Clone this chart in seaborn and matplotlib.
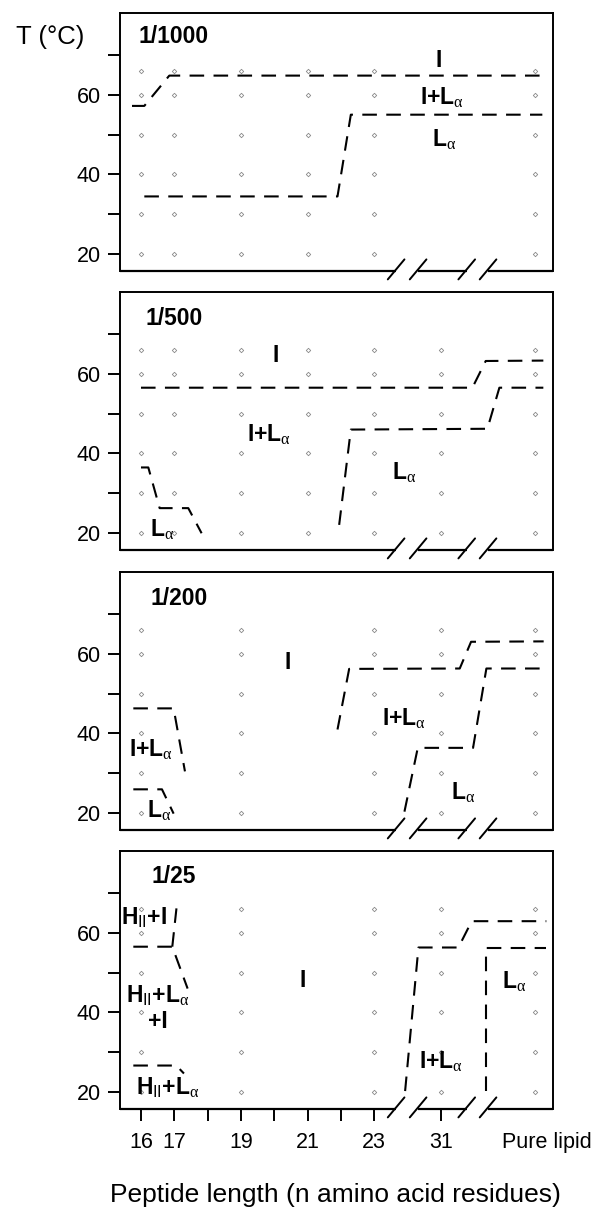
import numpy as np
import pandas as pd
import matplotlib
matplotlib.use("Agg")
import matplotlib.pyplot as plt
import matplotlib.transforms as mtransforms
import seaborn as sns

# ---------------- data ----------------
# broken x axis: category -> position on the axis
categories = ["16", "17", "19", "21", "23", "31", "Pure lipid"]
cat_pos = {"16": 0, "17": 1, "19": 3, "21": 5, "23": 7, "31": 9, "Pure lipid": 11.83}
temps = [20, 30, 40, 50, 60, 66]

panel_titles = ["1/1000", "1/500", "1/200", "1/25"]
panel_columns = [
    ["16", "17", "19", "21", "23", "Pure lipid"],
    ["16", "17", "19", "21", "23", "31", "Pure lipid"],
    ["16", "19", "23", "31", "Pure lipid"],
    ["16", "19", "23", "31", "Pure lipid"],
]

# phase boundaries (axis position, temperature)
bounds_1000 = [
    [(-0.27, 57.2), (0.1, 57.2), (0.85, 64.8), (12.05, 64.8)],
    [(0.1, 34.5), (5.9, 34.5), (6.3, 55.0), (12.05, 55.0)],
]
bounds_500 = [
    [(0.0, 56.5), (9.95, 56.5), (10.35, 63.2), (12.08, 63.3)],
    [(5.95, 22.1), (6.3, 46.0), (10.4, 46.2), (10.76, 56.5), (12.08, 56.5)],
    [(0.0, 36.5), (0.22, 36.5), (0.56, 26.3), (1.42, 26.3), (1.82, 20.0)],
]
bounds_200 = [
    [(5.9, 41.0), (6.25, 56.2), (9.57, 56.3), (9.91, 63.0), (12.09, 63.1)],
    [(7.91, 20.4), (8.31, 36.4), (9.97, 36.4), (10.37, 56.3), (12.09, 56.3)],
    [(-0.23, 46.3), (0.98, 46.3), (1.32, 30.5)],
    [(-0.23, 26.0), (0.63, 26.0), (0.98, 19.9)],
]
bounds_25 = [
    [(7.93, 20.3), (8.33, 56.3), (9.53, 56.3), (9.93, 62.9), (12.17, 62.9)],
    [(10.37, 20.3), (10.37, 56.3), (12.17, 56.3)],
    [(-0.23, 56.5), (0.94, 56.5), (1.4, 46.0)],
    [(0.94, 56.5), (1.07, 66.5)],
    [(-0.23, 26.7), (1.06, 26.7), (1.29, 24.7)],
]
panel_bounds = [bounds_1000, bounds_500, bounds_200, bounds_25]

LA = r"L$_{\mathrm{\alpha}}$"
IL = r"I+L$_{\mathrm{\alpha}}$"
HI = r"H$_{\mathsf{II}}$+I"
HL = r"H$_{\mathsf{II}}$+L$_{\mathrm{\alpha}}$"
labels_1000 = [("I", 8.94, 68.6), (IL, 9.05, 59.3), (LA, 9.1, 48.8)]
labels_500 = [("I", 4.03, 64.7), (IL, 3.83, 44.6), (LA, 7.9, 35.1), (LA, 0.62, 20.8)]
labels_200 = [("I", 4.39, 57.9), (IL, 7.91, 43.7), (IL, 0.29, 36.0), (LA, 9.68, 25.0), (LA, 0.55, 20.6)]
labels_25 = [(HI, 0.08, 63.7), (HL, 0.5, 44.3), ("+I", 0.5, 37.7), ("I", 4.84, 48.0),
             (IL, 9.02, 27.7), (LA, 11.2, 47.6), (HL, 0.8, 21.1)]
panel_labels = [labels_1000, labels_500, labels_200, labels_25]

xtick_pos = [0, 1, 2, 3, 4, 5, 6, 7, 9, 12.19]
xtick_lab = ["16", "17", "", "19", "", "21", "", "23", "31", "Pure lipid"]
axis_breaks = [7.66, 8.32, 9.78, 10.42]

# ---------------- style ----------------
sns.set_theme(style="ticks")
plt.rcParams["font.family"] = ["Liberation Sans", "DejaVu Sans"]
plt.rcParams["mathtext.fontset"] = "custom"
plt.rcParams["mathtext.rm"] = "Liberation Serif"
plt.rcParams["mathtext.it"] = "Liberation Serif:italic"
plt.rcParams["mathtext.sf"] = "Liberation Sans"
plt.rcParams["mathtext.bf"] = "Liberation Sans:bold"
plt.rcParams["text.color"] = "black"
plt.rcParams["axes.labelcolor"] = "black"
plt.rcParams["axes.linewidth"] = 1.4

W, H = 594, 1209
fig = plt.figure(figsize=(W / 100, H / 100), dpi=100)

ax_left, ax_w = 120 / W, 433 / W
tops = [13, 292, 572, 851]
ax_h_px = 258
title_xy = [(0.042, 0.91), (0.06, 0.897), (0.07, 0.897), (0.072, 0.90)]
XLIM = (-0.63, 12.37)
YLIM = (15.8, 80.5)
dash = (0, (7, 4.5))

for i in range(4):
    ax = fig.add_axes([ax_left, 1 - (tops[i] + ax_h_px) / H, ax_w, ax_h_px / H])
    ax.set_xlim(*XLIM)
    ax.set_ylim(*YLIM)

    # sample points
    rows = [(cat_pos[c], t) for c in panel_columns[i] for t in temps]
    df = pd.DataFrame(rows, columns=["pos", "T"])
    sns.scatterplot(data=df, x="pos", y="T", ax=ax, marker="D", s=5,
                    color="white", edgecolor="#8a8a8a", linewidth=0.6,
                    legend=False, zorder=2)

    # phase boundaries
    for b in panel_bounds[i]:
        bx = [p[0] for p in b]
        by = [p[1] for p in b]
        sns.lineplot(x=bx, y=by, sort=False, estimator=None, ax=ax,
                     color="black", lw=1.5, linestyle=dash, legend=False, zorder=3)

    # phase labels
    for txt, lx, ly in panel_labels[i]:
        ax.text(lx, ly, txt, ha="center", va="center", fontsize=16.5,
                fontweight="bold", color="black", zorder=4)

    ax.text(title_xy[i][0], title_xy[i][1], panel_titles[i], transform=ax.transAxes,
            ha="left", va="center", fontsize=16.5, fontweight="bold", color="black")

    # y axis
    ax.set_yticks([20, 30, 40, 50, 60, 70])
    ax.set_yticklabels(["20", "", "40", "", "60", ""])
    ax.tick_params(axis="y", direction="out", length=9, width=1.4, pad=5,
                   labelsize=15.5, color="black", labelcolor="black")
    ax.set_xlabel("")
    ax.set_ylabel("")

    # x axis
    if i == 3:
        ax.set_xticks(xtick_pos)
        ax.set_xticklabels(xtick_lab)
        ax.tick_params(axis="x", direction="out", length=8.5, width=1.4, pad=8,
                       labelsize=15.5, color="black", labelcolor="black")
        ax.xaxis.get_major_ticks()[-1].tick1line.set_visible(False)
    else:
        ax.set_xticks([])

    # frame with broken bottom spine
    for s in ["left", "right", "top"]:
        ax.spines[s].set_visible(True)
        ax.spines[s].set_color("black")
        ax.spines[s].set_linewidth(1.4)
    ax.spines["bottom"].set_visible(False)
    trans = mtransforms.blended_transform_factory(ax.transData, ax.transAxes)
    seg_edges = [XLIM[0], axis_breaks[0], axis_breaks[1], axis_breaks[2],
                 axis_breaks[3], XLIM[1]]
    for a, b in zip(seg_edges[0::2], seg_edges[1::2]):
        ax.plot([a, b], [0, 0], transform=trans, color="black", lw=1.6,
                clip_on=False, solid_capstyle="butt", zorder=5)
    dy_lo, dy_hi = 8.4 / ax_h_px, 11.6 / ax_h_px
    for bx in axis_breaks:
        ax.plot([bx - 0.25, bx + 0.25], [-dy_lo, dy_hi], transform=trans,
                color="black", lw=1.4, clip_on=False, zorder=5)

fig.text(50 / W, 1 - 37 / H, "T (°C)", ha="center", va="center", fontsize=18.5,
         color="black")
fig.text(335 / W, 1 - 1195 / H, "Peptide length (n amino acid residues)",
         ha="center", va="center", fontsize=19, color="black")

fig.savefig("out.png", dpi=100)
